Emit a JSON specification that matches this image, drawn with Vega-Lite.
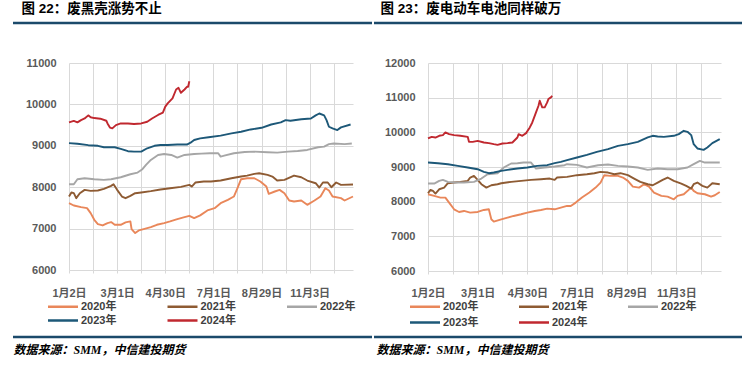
{
  "$schema": "https://vega.github.io/schema/vega-lite/v6.json",
  "padding": {"left": 12, "top": 1, "right": 0, "bottom": 0},
  "background": "white",
  "columns": 2,
  "align": {"row": "each", "column": "each"},
  "spacing": {"row": 0, "column": 0},
  "resolve": {"scale": {"color": "independent"}, "legend": {"color": "independent"}},
  "datasets": {
    "shell": [
      {"day":0,"year":"2020年","price":7614},{"day":4,"year":"2020年","price":7558},{"day":10,"year":"2020年","price":7518},{"day":15,"year":"2020年","price":7494},{"day":18,"year":"2020年","price":7373},{"day":21,"year":"2020年","price":7213},{"day":24,"year":"2020年","price":7108},{"day":28,"year":"2020年","price":7076},{"day":32,"year":"2020年","price":7133},{"day":35,"year":"2020年","price":7157},{"day":38,"year":"2020年","price":7092},{"day":43,"year":"2020年","price":7092},{"day":47,"year":"2020年","price":7149},{"day":51,"year":"2020年","price":7173},{"day":52,"year":"2020年","price":6988},{"day":55,"year":"2020年","price":6892},{"day":58,"year":"2020年","price":6956},{"day":62,"year":"2020年","price":6988},{"day":68,"year":"2020年","price":7036},{"day":73,"year":"2020年","price":7092},{"day":79,"year":"2020年","price":7133},{"day":84,"year":"2020年","price":7173},{"day":90,"year":"2020年","price":7229},{"day":96,"year":"2020年","price":7277},{"day":100,"year":"2020年","price":7309},{"day":104,"year":"2020年","price":7253},{"day":109,"year":"2020年","price":7320},{"day":115,"year":"2020年","price":7438},{"day":121,"year":"2020年","price":7494},{"day":126,"year":"2020年","price":7614},{"day":132,"year":"2020年","price":7695},{"day":137,"year":"2020年","price":7775},{"day":140,"year":"2020年","price":7976},{"day":143,"year":"2020年","price":8193},{"day":148,"year":"2020年","price":8217},{"day":154,"year":"2020年","price":8217},{"day":159,"year":"2020年","price":8137},{"day":164,"year":"2020年","price":8016},{"day":166,"year":"2020年","price":7839},{"day":171,"year":"2020年","price":7896},{"day":175,"year":"2020年","price":7936},{"day":179,"year":"2020年","price":7855},{"day":183,"year":"2020年","price":7679},{"day":187,"year":"2020年","price":7655},{"day":193,"year":"2020年","price":7679},{"day":198,"year":"2020年","price":7574},{"day":204,"year":"2020年","price":7679},{"day":209,"year":"2020年","price":7775},{"day":213,"year":"2020年","price":7976},{"day":216,"year":"2020年","price":7920},{"day":219,"year":"2020年","price":7775},{"day":226,"year":"2020年","price":7735},{"day":229,"year":"2020年","price":7679},{"day":236,"year":"2020年","price":7775},
      {"day":0,"year":"2021年","price":7775},{"day":2,"year":"2021年","price":7872},{"day":4,"year":"2021年","price":7855},{"day":6,"year":"2021年","price":7735},{"day":9,"year":"2021年","price":7855},{"day":13,"year":"2021年","price":7936},{"day":18,"year":"2021年","price":7912},{"day":24,"year":"2021年","price":7920},{"day":29,"year":"2021年","price":7960},{"day":35,"year":"2021年","price":8032},{"day":37,"year":"2021年","price":8072},{"day":40,"year":"2021年","price":7936},{"day":44,"year":"2021年","price":7775},{"day":47,"year":"2021年","price":7735},{"day":51,"year":"2021年","price":7791},{"day":55,"year":"2021年","price":7855},{"day":60,"year":"2021年","price":7872},{"day":68,"year":"2021年","price":7904},{"day":76,"year":"2021年","price":7944},{"day":84,"year":"2021年","price":7976},{"day":93,"year":"2021年","price":8008},{"day":100,"year":"2021年","price":8056},{"day":102,"year":"2021年","price":8016},{"day":105,"year":"2021年","price":8113},{"day":112,"year":"2021年","price":8137},{"day":118,"year":"2021年","price":8137},{"day":126,"year":"2021年","price":8161},{"day":135,"year":"2021年","price":8217},{"day":143,"year":"2021年","price":8257},{"day":148,"year":"2021年","price":8281},{"day":154,"year":"2021年","price":8321},{"day":158,"year":"2021年","price":8337},{"day":165,"year":"2021年","price":8297},{"day":169,"year":"2021年","price":8257},{"day":173,"year":"2021年","price":8161},{"day":179,"year":"2021年","price":8177},{"day":187,"year":"2021年","price":8281},{"day":193,"year":"2021年","price":8241},{"day":198,"year":"2021年","price":8161},{"day":205,"year":"2021年","price":8096},{"day":208,"year":"2021年","price":7992},{"day":211,"year":"2021年","price":8113},{"day":215,"year":"2021年","price":8113},{"day":218,"year":"2021年","price":8000},{"day":222,"year":"2021年","price":8113},{"day":226,"year":"2021年","price":8056},{"day":236,"year":"2021年","price":8064},
      {"day":0,"year":"2022年","price":8072},{"day":4,"year":"2022年","price":8072},{"day":7,"year":"2022年","price":8193},{"day":13,"year":"2022年","price":8217},{"day":21,"year":"2022年","price":8193},{"day":29,"year":"2022年","price":8177},{"day":35,"year":"2022年","price":8193},{"day":43,"year":"2022年","price":8241},{"day":51,"year":"2022年","price":8313},{"day":57,"year":"2022年","price":8353},{"day":61,"year":"2022年","price":8434},{"day":64,"year":"2022年","price":8538},{"day":68,"year":"2022年","price":8659},{"day":74,"year":"2022年","price":8779},{"day":79,"year":"2022年","price":8803},{"day":85,"year":"2022年","price":8779},{"day":90,"year":"2022年","price":8715},{"day":96,"year":"2022年","price":8779},{"day":104,"year":"2022年","price":8803},{"day":110,"year":"2022年","price":8810},{"day":117,"year":"2022年","price":8819},{"day":124,"year":"2022年","price":8819},{"day":126,"year":"2022年","price":8740},{"day":129,"year":"2022年","price":8763},{"day":137,"year":"2022年","price":8819},{"day":146,"year":"2022年","price":8851},{"day":154,"year":"2022年","price":8859},{"day":165,"year":"2022年","price":8843},{"day":173,"year":"2022年","price":8835},{"day":182,"year":"2022年","price":8859},{"day":190,"year":"2022年","price":8875},{"day":198,"year":"2022年","price":8900},{"day":207,"year":"2022年","price":8964},{"day":212,"year":"2022年","price":8980},{"day":216,"year":"2022年","price":9040},{"day":220,"year":"2022年","price":9056},{"day":229,"year":"2022年","price":9040},{"day":235,"year":"2022年","price":9056},
      {"day":0,"year":"2023年","price":9064},{"day":7,"year":"2023年","price":9050},{"day":16,"year":"2023年","price":9015},{"day":24,"year":"2023年","price":9000},{"day":29,"year":"2023年","price":8965},{"day":38,"year":"2023年","price":8965},{"day":43,"year":"2023年","price":8925},{"day":49,"year":"2023年","price":8870},{"day":54,"year":"2023年","price":8860},{"day":60,"year":"2023年","price":8860},{"day":65,"year":"2023年","price":8940},{"day":71,"year":"2023年","price":9000},{"day":76,"year":"2023年","price":9020},{"day":82,"year":"2023年","price":9020},{"day":90,"year":"2023年","price":9030},{"day":98,"year":"2023年","price":9030},{"day":101,"year":"2023年","price":9075},{"day":104,"year":"2023年","price":9140},{"day":109,"year":"2023年","price":9180},{"day":116,"year":"2023年","price":9205},{"day":126,"year":"2023年","price":9245},{"day":135,"year":"2023年","price":9300},{"day":143,"year":"2023年","price":9340},{"day":151,"year":"2023年","price":9395},{"day":160,"year":"2023年","price":9435},{"day":168,"year":"2023年","price":9515},{"day":176,"year":"2023年","price":9565},{"day":180,"year":"2023年","price":9620},{"day":184,"year":"2023年","price":9605},{"day":193,"year":"2023年","price":9640},{"day":201,"year":"2023年","price":9660},{"day":205,"year":"2023年","price":9735},{"day":208,"year":"2023年","price":9780},{"day":212,"year":"2023年","price":9735},{"day":214,"year":"2023年","price":9620},{"day":216,"year":"2023年","price":9460},{"day":219,"year":"2023年","price":9420},{"day":223,"year":"2023年","price":9380},{"day":226,"year":"2023年","price":9445},{"day":234,"year":"2023年","price":9515},
      {"day":0,"year":"2024年","price":9566},{"day":4,"year":"2024年","price":9600},{"day":7,"year":"2024年","price":9565},{"day":10,"year":"2024年","price":9620},{"day":13,"year":"2024年","price":9660},{"day":16,"year":"2024年","price":9735},{"day":18,"year":"2024年","price":9690},{"day":21,"year":"2024年","price":9670},{"day":26,"year":"2024年","price":9655},{"day":31,"year":"2024年","price":9605},{"day":32,"year":"2024年","price":9540},{"day":34,"year":"2024年","price":9440},{"day":36,"year":"2024年","price":9420},{"day":39,"year":"2024年","price":9500},{"day":43,"year":"2024年","price":9540},{"day":49,"year":"2024年","price":9540},{"day":54,"year":"2024年","price":9525},{"day":60,"year":"2024年","price":9540},{"day":65,"year":"2024年","price":9580},{"day":69,"year":"2024年","price":9660},{"day":74,"year":"2024年","price":9745},{"day":78,"year":"2024年","price":9800},{"day":80,"year":"2024年","price":9945},{"day":82,"year":"2024年","price":10025},{"day":86,"year":"2024年","price":10145},{"day":89,"year":"2024年","price":10360},{"day":91,"year":"2024年","price":10400},{"day":93,"year":"2024年","price":10280},{"day":96,"year":"2024年","price":10360},{"day":98,"year":"2024年","price":10425},{"day":99,"year":"2024年","price":10425},{"day":100,"year":"2024年","price":10560}
    ],
    "battery": [
      {"day":0,"year":"2020年","price":8214},{"day":5,"year":"2020年","price":8166},{"day":10,"year":"2020年","price":8118},{"day":14,"year":"2020年","price":8118},{"day":17,"year":"2020年","price":7973},{"day":21,"year":"2020年","price":7780},{"day":25,"year":"2020年","price":7703},{"day":29,"year":"2020年","price":7732},{"day":34,"year":"2020年","price":7684},{"day":40,"year":"2020年","price":7703},{"day":45,"year":"2020年","price":7761},{"day":49,"year":"2020年","price":7780},{"day":51,"year":"2020年","price":7491},{"day":53,"year":"2020年","price":7424},{"day":59,"year":"2020年","price":7491},{"day":64,"year":"2020年","price":7539},{"day":69,"year":"2020年","price":7588},{"day":75,"year":"2020年","price":7636},{"day":80,"year":"2020年","price":7684},{"day":86,"year":"2020年","price":7732},{"day":91,"year":"2020年","price":7761},{"day":96,"year":"2020年","price":7800},{"day":102,"year":"2020年","price":7780},{"day":107,"year":"2020年","price":7828},{"day":112,"year":"2020年","price":7877},{"day":115,"year":"2020年","price":7877},{"day":119,"year":"2020年","price":7973},{"day":124,"year":"2020年","price":8118},{"day":130,"year":"2020年","price":8262},{"day":135,"year":"2020年","price":8406},{"day":139,"year":"2020年","price":8551},{"day":142,"year":"2020年","price":8764},{"day":147,"year":"2020年","price":8744},{"day":153,"year":"2020年","price":8744},{"day":157,"year":"2020年","price":8696},{"day":161,"year":"2020年","price":8599},{"day":165,"year":"2020年","price":8435},{"day":170,"year":"2020年","price":8406},{"day":174,"year":"2020年","price":8503},{"day":178,"year":"2020年","price":8435},{"day":182,"year":"2020年","price":8262},{"day":188,"year":"2020年","price":8166},{"day":193,"year":"2020年","price":8146},{"day":198,"year":"2020年","price":8069},{"day":201,"year":"2020年","price":8166},{"day":206,"year":"2020年","price":8214},{"day":212,"year":"2020年","price":8406},{"day":214,"year":"2020年","price":8310},{"day":217,"year":"2020年","price":8243},{"day":223,"year":"2020年","price":8214},{"day":228,"year":"2020年","price":8146},{"day":231,"year":"2020年","price":8185},{"day":235,"year":"2020年","price":8281},
      {"day":0,"year":"2021年","price":8243},{"day":2,"year":"2021年","price":8339},{"day":4,"year":"2021年","price":8310},{"day":6,"year":"2021年","price":8233},{"day":9,"year":"2021年","price":8358},{"day":13,"year":"2021年","price":8406},{"day":16,"year":"2021年","price":8532},{"day":21,"year":"2021年","price":8551},{"day":26,"year":"2021年","price":8570},{"day":32,"year":"2021年","price":8599},{"day":34,"year":"2021年","price":8696},{"day":37,"year":"2021年","price":8744},{"day":40,"year":"2021年","price":8628},{"day":43,"year":"2021年","price":8503},{"day":47,"year":"2021年","price":8406},{"day":51,"year":"2021年","price":8474},{"day":56,"year":"2021年","price":8503},{"day":59,"year":"2021年","price":8532},{"day":67,"year":"2021年","price":8570},{"day":75,"year":"2021年","price":8599},{"day":83,"year":"2021年","price":8628},{"day":91,"year":"2021年","price":8647},{"day":98,"year":"2021年","price":8667},{"day":102,"year":"2021年","price":8628},{"day":104,"year":"2021年","price":8696},{"day":112,"year":"2021年","price":8715},{"day":120,"year":"2021年","price":8764},{"day":128,"year":"2021年","price":8792},{"day":134,"year":"2021年","price":8821},{"day":139,"year":"2021年","price":8859},{"day":145,"year":"2021年","price":8840},{"day":150,"year":"2021年","price":8792},{"day":155,"year":"2021年","price":8821},{"day":161,"year":"2021年","price":8764},{"day":166,"year":"2021年","price":8667},{"day":171,"year":"2021年","price":8570},{"day":177,"year":"2021年","price":8503},{"day":181,"year":"2021年","price":8474},{"day":185,"year":"2021年","price":8551},{"day":189,"year":"2021年","price":8628},{"day":193,"year":"2021年","price":8696},{"day":198,"year":"2021年","price":8599},{"day":204,"year":"2021年","price":8522},{"day":208,"year":"2021年","price":8455},{"day":212,"year":"2021年","price":8378},{"day":214,"year":"2021年","price":8503},{"day":217,"year":"2021年","price":8551},{"day":221,"year":"2021年","price":8455},{"day":225,"year":"2021年","price":8406},{"day":229,"year":"2021年","price":8532},{"day":235,"year":"2021年","price":8503},
      {"day":0,"year":"2022年","price":8522},{"day":5,"year":"2022年","price":8522},{"day":9,"year":"2022年","price":8599},{"day":12,"year":"2022年","price":8628},{"day":16,"year":"2022年","price":8570},{"day":21,"year":"2022年","price":8551},{"day":29,"year":"2022年","price":8551},{"day":37,"year":"2022年","price":8570},{"day":43,"year":"2022年","price":8667},{"day":48,"year":"2022年","price":8792},{"day":56,"year":"2022年","price":8821},{"day":61,"year":"2022年","price":8985},{"day":67,"year":"2022年","price":9100},{"day":72,"year":"2022年","price":9110},{"day":77,"year":"2022年","price":9129},{"day":83,"year":"2022年","price":9129},{"day":87,"year":"2022年","price":8956},{"day":94,"year":"2022年","price":8985},{"day":102,"year":"2022年","price":9014},{"day":110,"year":"2022年","price":9052},{"day":112,"year":"2022年","price":9081},{"day":120,"year":"2022年","price":9062},{"day":128,"year":"2022年","price":8985},{"day":137,"year":"2022年","price":9052},{"day":145,"year":"2022年","price":9071},{"day":153,"year":"2022年","price":9033},{"day":161,"year":"2022年","price":9014},{"day":169,"year":"2022年","price":8985},{"day":177,"year":"2022年","price":8917},{"day":185,"year":"2022年","price":8956},{"day":193,"year":"2022年","price":8936},{"day":201,"year":"2022年","price":8936},{"day":209,"year":"2022年","price":8985},{"day":214,"year":"2022年","price":9081},{"day":219,"year":"2022年","price":9177},{"day":223,"year":"2022年","price":9129},{"day":228,"year":"2022年","price":9129},{"day":235,"year":"2022年","price":9129},
      {"day":0,"year":"2023年","price":9129},{"day":8,"year":"2023年","price":9110},{"day":16,"year":"2023年","price":9081},{"day":24,"year":"2023年","price":9033},{"day":32,"year":"2023年","price":8985},{"day":40,"year":"2023年","price":8936},{"day":45,"year":"2023年","price":8859},{"day":49,"year":"2023年","price":8821},{"day":53,"year":"2023年","price":8840},{"day":59,"year":"2023年","price":8888},{"day":64,"year":"2023年","price":8917},{"day":72,"year":"2023年","price":8956},{"day":80,"year":"2023年","price":8985},{"day":88,"year":"2023年","price":9033},{"day":96,"year":"2023年","price":9052},{"day":102,"year":"2023年","price":9110},{"day":107,"year":"2023年","price":9148},{"day":112,"year":"2023年","price":9197},{"day":120,"year":"2023年","price":9274},{"day":128,"year":"2023年","price":9351},{"day":136,"year":"2023年","price":9437},{"day":145,"year":"2023年","price":9514},{"day":153,"year":"2023年","price":9611},{"day":161,"year":"2023年","price":9659},{"day":169,"year":"2023年","price":9726},{"day":177,"year":"2023年","price":9852},{"day":181,"year":"2023年","price":9900},{"day":185,"year":"2023年","price":9880},{"day":190,"year":"2023年","price":9870},{"day":198,"year":"2023年","price":9900},{"day":202,"year":"2023年","price":9948},{"day":206,"year":"2023年","price":10044},{"day":209,"year":"2023年","price":10015},{"day":212,"year":"2023年","price":9920},{"day":214,"year":"2023年","price":9659},{"day":217,"year":"2023年","price":9534},{"day":222,"year":"2023年","price":9495},{"day":225,"year":"2023年","price":9563},{"day":229,"year":"2023年","price":9688},{"day":235,"year":"2023年","price":9803},
      {"day":0,"year":"2024年","price":9823},{"day":3,"year":"2024年","price":9870},{"day":6,"year":"2024年","price":9850},{"day":9,"year":"2024年","price":9900},{"day":12,"year":"2024年","price":9920},{"day":14,"year":"2024年","price":9996},{"day":17,"year":"2024年","price":9948},{"day":21,"year":"2024年","price":9920},{"day":26,"year":"2024年","price":9900},{"day":32,"year":"2024年","price":9870},{"day":33,"year":"2024年","price":9726},{"day":36,"year":"2024年","price":9726},{"day":40,"year":"2024年","price":9755},{"day":45,"year":"2024年","price":9707},{"day":49,"year":"2024年","price":9688},{"day":53,"year":"2024年","price":9659},{"day":56,"year":"2024年","price":9640},{"day":60,"year":"2024年","price":9678},{"day":64,"year":"2024年","price":9688},{"day":68,"year":"2024年","price":9707},{"day":72,"year":"2024年","price":9852},{"day":73,"year":"2024年","price":9948},{"day":76,"year":"2024年","price":9900},{"day":79,"year":"2024年","price":9977},{"day":82,"year":"2024年","price":10141},{"day":84,"year":"2024年","price":10285},{"day":87,"year":"2024年","price":10574},{"day":89,"year":"2024年","price":10767},{"day":90,"year":"2024年","price":10911},{"day":92,"year":"2024年","price":10719},{"day":94,"year":"2024年","price":10719},{"day":96,"year":"2024年","price":10863},{"day":97,"year":"2024年","price":10960},{"day":99,"year":"2024年","price":11008},{"day":100,"year":"2024年","price":11056}
    ]
  },
  "concat": [
    {
      "width": 284, "height": 34,
      "data": {"values": [{"k": 0}]},
      "mark": {"type": "rule", "color": "#1B4A6B", "strokeWidth": 2.5, "strokeCap": "square"},
      "encoding": {
        "x": {"datum": 0, "type": "quantitative", "scale": {"domain": [0, 1], "range": [-54.75, 301.75]}, "axis": null},
        "x2": {"datum": 1},
        "y": {"datum": 0, "type": "quantitative", "scale": {"domain": [0, 1], "range": [0, 34]}, "axis": null}
      },
      "title": {"text": "图 22：废黑壳涨势不止", "anchor": "start", "frame": "bounds", "dx": 9, "offset": 6, "fontSize": 13.5, "fontWeight": "bold", "color": "#000000"}
    },
    {
      "width": 293, "height": 34,
      "data": {"values": [{"k": 0}]},
      "mark": {"type": "rule", "color": "#1B4A6B", "strokeWidth": 2.5, "strokeCap": "square"},
      "encoding": {
        "x": {"datum": 0, "type": "quantitative", "scale": {"domain": [0, 1], "range": [-52.75, 315.75]}, "axis": null},
        "x2": {"datum": 1},
        "y": {"datum": 0, "type": "quantitative", "scale": {"domain": [0, 1], "range": [0, 34]}, "axis": null}
      },
      "title": {"text": "图 23：废电动车电池同样破万", "anchor": "start", "frame": "bounds", "dx": 7, "offset": 6, "fontSize": 13.5, "fontWeight": "bold", "color": "#000000"}
    },
    {
      "width": 284, "height": 207,
      "data": {"name": "shell"},
      "mark": {"type": "line", "strokeWidth": 1.9, "strokeJoin": "round"},
      "encoding": {
        "x": {"field": "day", "type": "quantitative", "scale": {"domain": [0, 236], "nice": false, "zero": false},
          "axis": {"values": [0,20,40,60,80,100,120,140,160,180,200,220], "labelExpr": "datum.value == 0 ? '1月2日' : datum.value == 40 ? '3月1日' : datum.value == 80 ? '4月30日' : datum.value == 120 ? '7月1日' : datum.value == 160 ? '8月29日' : datum.value == 200 ? '11月3日' : ''", "grid": true, "gridColor": "#D9D9D9", "domain": false, "ticks": true, "tickSize": 3, "tickColor": "#D9D9D9", "labelPadding": 14, "labelOverlap": false, "labelFlush": false, "title": null}},
        "y": {"field": "price", "type": "quantitative", "scale": {"domain": [6000, 11000], "nice": false, "zero": false},
          "axis": {"values": [6000,7000,8000,9000,10000,11000], "format": "d", "grid": true, "gridColor": "#D9D9D9", "domain": false, "ticks": false, "labelPadding": 13, "minExtent": 55, "title": null}},
        "color": {"field": "year", "type": "nominal",
          "scale": {"domain": ["2020年","2021年","2022年","2023年","2024年"], "range": ["#E9875A","#8E5B33","#A6A6A6","#1D5878","#C0282F"]},
          "legend": {"title": null, "orient": "none", "legendX": -21, "legendY": 237, "direction": "horizontal", "columns": 3, "columnPadding": 45.5, "rowPadding": 2, "symbolType": "M-3,0H3", "symbolSize": 100, "symbolStrokeWidth": 2.5, "symbolOffset": 8.5, "labelOffset": 11.5, "padding": 0}}
      }
    },
    {
      "width": 293, "height": 208,
      "data": {"name": "battery"},
      "mark": {"type": "line", "strokeWidth": 1.9, "strokeJoin": "round"},
      "encoding": {
        "x": {"field": "day", "type": "quantitative", "scale": {"domain": [0, 236], "nice": false, "zero": false},
          "axis": {"values": [0,20,40,60,80,100,120,140,160,180,200,220], "labelExpr": "datum.value == 0 ? '1月2日' : datum.value == 40 ? '3月1日' : datum.value == 80 ? '4月30日' : datum.value == 120 ? '7月1日' : datum.value == 160 ? '8月29日' : datum.value == 200 ? '11月3日' : ''", "grid": true, "gridColor": "#D9D9D9", "domain": false, "ticks": true, "tickSize": 3, "tickColor": "#D9D9D9", "labelPadding": 13, "labelOverlap": false, "labelFlush": false, "title": null}},
        "y": {"field": "price", "type": "quantitative", "scale": {"domain": [6000, 12000], "nice": false, "zero": false},
          "axis": {"values": [6000,7000,8000,9000,10000,11000,12000], "format": "d", "grid": true, "gridColor": "#D9D9D9", "domain": false, "ticks": false, "labelPadding": 13, "minExtent": 53, "title": null}},
        "color": {"field": "year", "type": "nominal",
          "scale": {"domain": ["2020年","2021年","2022年","2023年","2024年"], "range": ["#E9875A","#8E5B33","#A6A6A6","#1D5878","#C0282F"]},
          "legend": {"title": null, "orient": "none", "legendX": -18, "legendY": 237, "direction": "horizontal", "columns": 3, "columnPadding": 35, "rowPadding": 4, "symbolType": "M-3,0H3", "symbolSize": 100, "symbolStrokeWidth": 2.5, "symbolOffset": 8.5, "labelOffset": 11.5, "padding": 0}}
      }
    },
    {
      "width": 284, "height": 9,
      "data": {"values": [{"k": 0}]},
      "mark": {"type": "rule", "color": "#1B4A6B", "strokeWidth": 2.5, "strokeCap": "square"},
      "encoding": {
        "x": {"datum": 0, "type": "quantitative", "scale": {"domain": [0, 1], "range": [-54.75, 301.75]}, "axis": null},
        "x2": {"datum": 1},
        "y": {"datum": 0, "type": "quantitative", "scale": {"domain": [0, 1], "range": [9, 0]}, "axis": null}
      },
      "title": {"text": "数据来源：SMM，中信建投期货", "orient": "bottom", "anchor": "start", "frame": "bounds", "dx": 1, "offset": 6, "fontSize": 12, "fontWeight": "bold", "fontStyle": "italic", "font": "Liberation Serif, Noto Sans CJK SC", "color": "#000000"}
    },
    {
      "width": 293, "height": 9,
      "data": {"values": [{"k": 0}]},
      "mark": {"type": "rule", "color": "#1B4A6B", "strokeWidth": 2.5, "strokeCap": "square"},
      "encoding": {
        "x": {"datum": 0, "type": "quantitative", "scale": {"domain": [0, 1], "range": [-52.75, 315.75]}, "axis": null},
        "x2": {"datum": 1},
        "y": {"datum": 0, "type": "quantitative", "scale": {"domain": [0, 1], "range": [9, 0]}, "axis": null}
      },
      "title": {"text": "数据来源：SMM，中信建投期货", "orient": "bottom", "anchor": "start", "frame": "bounds", "dx": 3, "offset": 6, "fontSize": 12, "fontWeight": "bold", "fontStyle": "italic", "font": "Liberation Serif, Noto Sans CJK SC", "color": "#000000"}
    }
  ],
  "config": {
    "view": {"stroke": null},
    "font": "Liberation Sans, Noto Sans CJK SC",
    "axis": {"labelFontSize": 11, "labelFontWeight": "bold", "labelColor": "#595959", "labelFont": "Liberation Sans, Noto Sans CJK SC"},
    "legend": {"labelFontSize": 11, "labelFontWeight": "bold", "labelColor": "#404040", "labelFont": "Liberation Sans, Noto Sans CJK SC"},
    "title": {"font": "Liberation Sans, Noto Sans CJK SC"}
  }
}
